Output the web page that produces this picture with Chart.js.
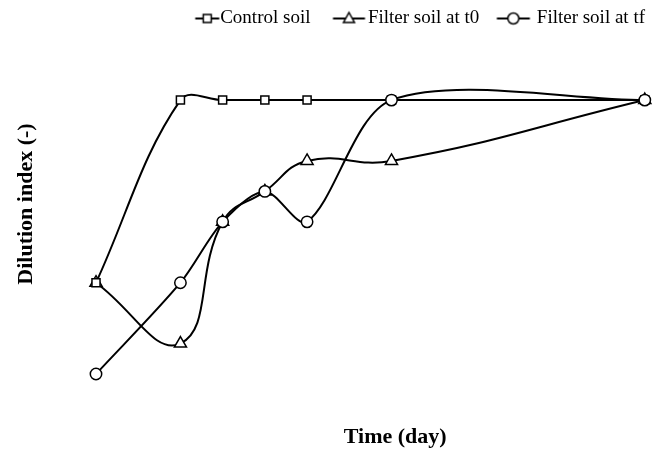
<!DOCTYPE html>
<html><head><meta charset="utf-8">
<script src="https://cdn.jsdelivr.net/npm/chart.js@4/dist/chart.umd.min.js"></script>
<style>html,body{margin:0;padding:0;background:#fff}canvas{display:block}</style>
</head><body>
<canvas id="c" width="659" height="450"></canvas>
<script>
// ---- data ----
const days = [0, 2, 3, 4, 5, 7, 13];
const controlSoil = [3, 9, 9, 9, 9, 9, 9];
const filterSoilT0 = [3, 1, 5, 6, 7, 7, 9];
const filterSoilTf = [0, 3, 5, 6, 5, 9, 9];
const seriesNames = ['Control soil', 'Filter soil at t0', 'Filter soil at tf'];
const markerStyles = ['rect', 'triangle', 'circle'];
const xTitle = 'Time (day)';
const yTitle = 'Dilution index (-)';

const FONT = '"Liberation Serif", "Times New Roman", serif';
const LEGEND_FONT = 19;
const BOX_W = 44;

function drawMarker(ctx, style, x, y) {
  ctx.beginPath();
  if (style === 'rect') {
    ctx.rect(x - 4, y - 4, 8, 8);
  } else if (style === 'triangle') {
    ctx.moveTo(x, y - 6);
    ctx.lineTo(x + 5.5, y + 4);
    ctx.lineTo(x - 5.5, y + 4);
    ctx.closePath();
  } else {
    ctx.arc(x, y, 5.5, 0, Math.PI * 2);
  }
  ctx.fillStyle = '#fff';
  ctx.fill();
  ctx.lineWidth = 1.5;
  ctx.strokeStyle = '#000';
  ctx.stroke();
}

// legend swatch: line + marker, positioned relative to the text start
const swatchOffsets = [[-25, -1], [-35, -3], [-40, -7]];
function makeSwatch(i) {
  const c = document.createElement('canvas');
  c.width = 148; c.height = 20;
  const ctx = c.getContext('2d');
  const textStart = c.width / 2 + BOX_W / 2 + LEGEND_FONT / 2;
  const a = textStart + swatchOffsets[i][0];
  const b = textStart + swatchOffsets[i][1];
  ctx.beginPath();
  ctx.moveTo(a, 10); ctx.lineTo(b, 10);
  ctx.lineWidth = 2; ctx.strokeStyle = '#000'; ctx.stroke();
  drawMarker(ctx, markerStyles[i], (a + b) / 2, 10);
  return c;
}
const swatches = [0, 1, 2].map(makeSwatch);

const axisTitles = {
  id: 'axisTitles',
  afterDraw(chart) {
    const {ctx, chartArea: a} = chart;
    ctx.save();
    ctx.fillStyle = '#000';
    ctx.font = 'bold 22px ' + FONT;
    ctx.textAlign = 'center';
    ctx.textBaseline = 'middle';
    ctx.fillText(xTitle, a.left + (a.right - a.left) * 0.541, a.bottom + 63);
    ctx.translate(a.left - 70, (a.top + a.bottom) / 2 - 2);
    ctx.rotate(-Math.PI / 2);
    ctx.fillText(yTitle, 0, 0);
    ctx.restore();
  }
};

const values = [controlSoil, filterSoilT0, filterSoilTf];
const tensions = [0.38, 0.45, 0.3];
const orders = [1, 2, 0];

new Chart(document.getElementById('c'), {
  type: 'line',
  data: {
    datasets: values.map((v, i) => ({
      label: seriesNames[i],
      data: days.map((d, j) => ({x: d, y: v[j]})),
      borderColor: '#000',
      borderWidth: 2,
      tension: tensions[i],
      pointStyle: markerStyles[i],
      pointRadius: markerStyles[i] === 'rect' ? 5.7 : (markerStyles[i] === 'triangle' ? 7 : 5.7),
      pointBackgroundColor: '#fff',
      pointBorderColor: '#000',
      pointBorderWidth: 1.5,
      clip: false,
      order: orders[i]
    }))
  },
  options: {
    responsive: false,
    animation: false,
    events: [],
    layout: {padding: {left: 96, right: 10, top: 5, bottom: 76}},
    elements: {line: {capBezierPoints: false}},
    scales: {
      x: {type: 'linear', min: 0, max: 13.1, display: false},
      y: {type: 'linear', min: 0, max: 11.04, display: false}
    },
    plugins: {
      tooltip: {enabled: false},
      legend: {
        position: 'top',
        align: 'end',
        labels: {
          usePointStyle: true,
          pointStyleWidth: BOX_W,
          padding: 4,
          color: '#000',
          font: {family: FONT, size: LEGEND_FONT},
          generateLabels: (chart) => chart.data.datasets.map((ds, i) => ({
            text: ds.label,
            pointStyle: swatches[i],
            fillStyle: '#fff',
            strokeStyle: '#000',
            lineWidth: 0,
            hidden: false,
            datasetIndex: i
          }))
        }
      }
    }
  },
  plugins: [axisTitles]
});
</script>
</body></html>
